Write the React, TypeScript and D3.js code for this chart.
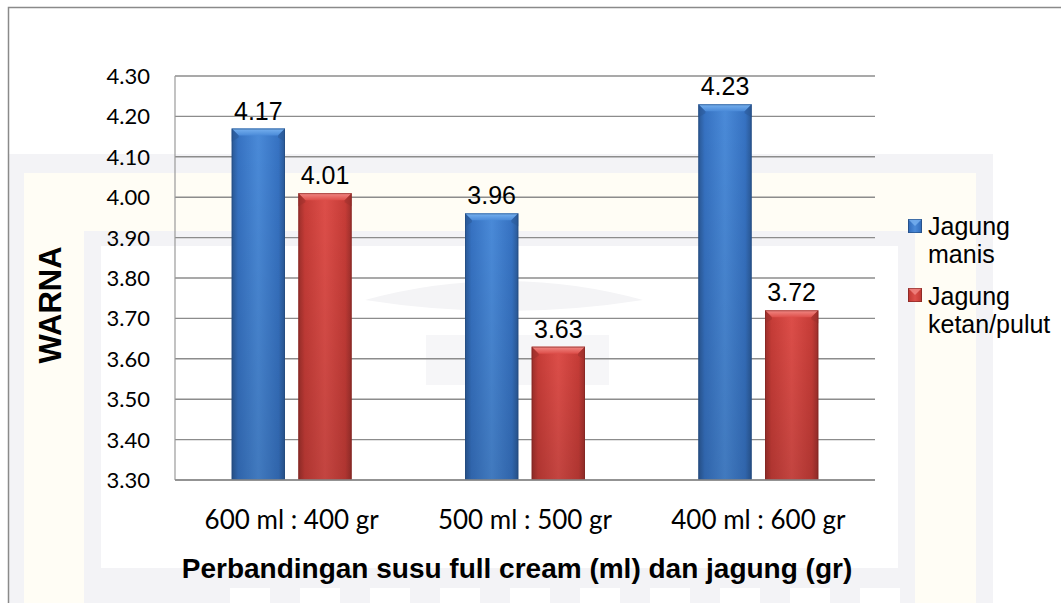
import React from "react";
import * as d3 from "d3";

const categories = ["600 ml : 400 gr", "500 ml : 500 gr", "400 ml : 600 gr"];
const seriesNames = ["Jagung manis", "Jagung ketan/pulut"];
const legendLines = [["Jagung", "manis"], ["Jagung", "ketan/pulut"]];
const manis = [4.17, 3.96, 4.23];
const ketan = [4.01, 3.63, 3.72];
const yTicks = [3.3, 3.4, 3.5, 3.6, 3.7, 3.8, 3.9, 4.0, 4.1, 4.2, 4.3];
const yTitle = "WARNA";
const xTitle = "Perbandingan susu full cream (ml) dan jagung (gr)";

const W = 1061;
const H = 603;
const plot = { left: 175, right: 875, top: 76, bottom: 480 };

const palettes = [
  { edge: "#2a5895", mid: "#3672c2", center: "#4a8ad8", top: "#78b2f0", dark: "#23497c" },
  { edge: "#9c2f2b", mid: "#c63c37", center: "#dd4e49", top: "#f28a86", dark: "#7e2421" },
];

export default function App() {
  const x0 = d3.scaleBand<string>().domain(categories).range([plot.left, plot.right]).paddingInner(0).paddingOuter(0);
  const x1 = d3.scaleBand<string>().domain(seriesNames).range([0, x0.bandwidth()]).paddingInner(0.2).paddingOuter(0.85);
  const y = d3.scaleLinear().domain([3.3, 4.3]).range([plot.bottom, plot.top]);
  const values = [manis, ketan];
  const bev = 7;

  return (
    <svg width={W} height={H} style={{ position: "absolute", left: 0, top: 0, background: "#fff" }}>
      <defs>
        {palettes.map((p, i) => (
          <linearGradient key={"h" + i} id={"hg" + i} x1="0" x2="1" y1="0" y2="0">
            <stop offset="0" stopColor={p.edge} />
            <stop offset="0.12" stopColor={p.mid} />
            <stop offset="0.5" stopColor={p.center} />
            <stop offset="0.88" stopColor={p.mid} />
            <stop offset="1" stopColor={p.edge} />
          </linearGradient>
        ))}
        {palettes.map((p, i) => (
          <linearGradient key={"t" + i} id={"tg" + i} x1="0" x2="0" y1="0" y2="1">
            <stop offset="0" stopColor={p.top} />
            <stop offset="1" stopColor={p.center} />
          </linearGradient>
        ))}
        <linearGradient id="vshade" x1="0" x2="0" y1="0" y2="1">
          <stop offset="0" stopColor="#000" stopOpacity="0" />
          <stop offset="1" stopColor="#000" stopOpacity="0.12" />
        </linearGradient>
      </defs>

      {/* faint watermark background */}
      <g>
        <rect x={8} y={154} width={985} height={449} fill="#f3f3f6" />
        <rect x={24} y={173} width={952} height={430} fill="#fffdf5" />
        <rect x={84} y={231} width={831} height={372} fill="#f3f3f6" />
        <rect x={101} y={246} width={797} height={322} fill="#ffffff" />
        <path d="M365,300 Q504,262 643,300 Q504,322 365,300 Z" fill="#f4f4f6" />
        <rect x={426} y={335} width={183} height={50} fill="#f6f6f8" />
        {[230, 300, 370, 440, 510, 580, 650, 720, 790, 860].map((lx) => (
          <rect key={lx} x={lx} y={588} width={40} height={15} fill="#ffffff" />
        ))}
      </g>

      {/* outer chart border */}
      <path d={`M8.5,${H + 2} V7.5 H${W + 2}`} fill="none" stroke="#8a8a8a" strokeWidth={1.5} />

      {/* gridlines */}
      {yTicks.map((t) => (
        <line key={t} x1={plot.left} x2={plot.right} y1={y(t)} y2={y(t)} stroke="#8c8c8c" strokeWidth={1.4} />
      ))}
      <line x1={plot.left} x2={plot.left} y1={plot.top} y2={plot.bottom} stroke="#9a9a9a" strokeWidth={1.2} />

      {/* y tick labels */}
      {yTicks.map((t) => (
        <text key={"l" + t} x={150} y={y(t)} dy="0.36em" textAnchor="end" fontFamily="Lato, sans-serif" fontSize={22} fill="#000">
          {t.toFixed(2)}
        </text>
      ))}

      {/* bars */}
      {categories.map((c, ci) => (
        <g key={c}>
          {seriesNames.map((s, si) => {
            const v = values[si][ci];
            const bx = (x0(c) ?? 0) + (x1(s) ?? 0);
            const bw = x1.bandwidth();
            const by = y(v);
            const bh = plot.bottom - by;
            const p = palettes[si];
            return (
              <g key={s}>
                <rect x={bx} y={by} width={bw} height={bh} fill={`url(#hg${si})`} />
                <rect x={bx} y={by} width={bw} height={bh} fill="url(#vshade)" />
                <polygon points={`${bx},${by} ${bx + bw},${by} ${bx + bw - bev},${by + bev} ${bx + bev},${by + bev}`} fill={`url(#tg${si})`} />
                <polygon points={`${bx},${by} ${bx + bev},${by + bev} ${bx + bev},${by + bev + 2} ${bx},${by + bev + 6}`} fill={p.edge} opacity={0.5} />
                <polygon points={`${bx + bw},${by} ${bx + bw - bev},${by + bev} ${bx + bw - bev},${by + bev + 2} ${bx + bw},${by + bev + 6}`} fill={p.edge} opacity={0.5} />
                <rect x={bx + 0.5} y={by + 0.5} width={bw - 1} height={bh - 1} fill="none" stroke={p.dark} strokeWidth={1} opacity={0.6} />
                <text x={bx + bw / 2} y={by - 9} textAnchor="middle" fontFamily="Liberation Sans, Arial, sans-serif" fontSize={25} fill="#000">
                  {v.toFixed(2)}
                </text>
              </g>
            );
          })}
        </g>
      ))}

      {/* x axis line */}
      <line x1={plot.left} x2={plot.right} y1={plot.bottom} y2={plot.bottom} stroke="#8c8c8c" strokeWidth={1.5} />

      {/* category labels */}
      {categories.map((c) => (
        <text key={"c" + c} x={(x0(c) ?? 0) + x0.bandwidth() / 2} y={529} textAnchor="middle" fontFamily="Lato, sans-serif" fontSize={26} fill="#000">
          {c}
        </text>
      ))}

      {/* axis titles */}
      <text x={517} y={578} textAnchor="middle" fontFamily="Liberation Sans, Arial, sans-serif" fontWeight="bold" fontSize={28} fill="#000">
        {xTitle}
      </text>
      <text transform="translate(61,305) rotate(-90)" textAnchor="middle" fontFamily="Liberation Sans, Arial, sans-serif" fontWeight="bold" fontSize={31} fill="#000">
        {yTitle}
      </text>

      {/* legend */}
      {seriesNames.map((s, i) => {
        const top = i === 0 ? 219 : 288;
        const base = i === 0 ? 235 : 305;
        const p = palettes[i];
        return (
          <g key={"lg" + s}>
            <rect x={908} y={top} width={14} height={14} fill={`url(#hg${i})`} />
            <polygon points={`908,${top} 922,${top} 915,${top + 7}`} fill={p.top} opacity={0.8} />
            <rect x={908.5} y={top + 0.5} width={13} height={13} fill="none" stroke={p.dark} strokeWidth={1} opacity={0.6} />
            {legendLines[i].map((ln, li) => (
              <text key={li} x={928} y={base + li * 28} fontFamily="Liberation Sans, Arial, sans-serif" fontSize={25} fill="#000">
                {ln}
              </text>
            ))}
          </g>
        );
      })}
    </svg>
  );
}
